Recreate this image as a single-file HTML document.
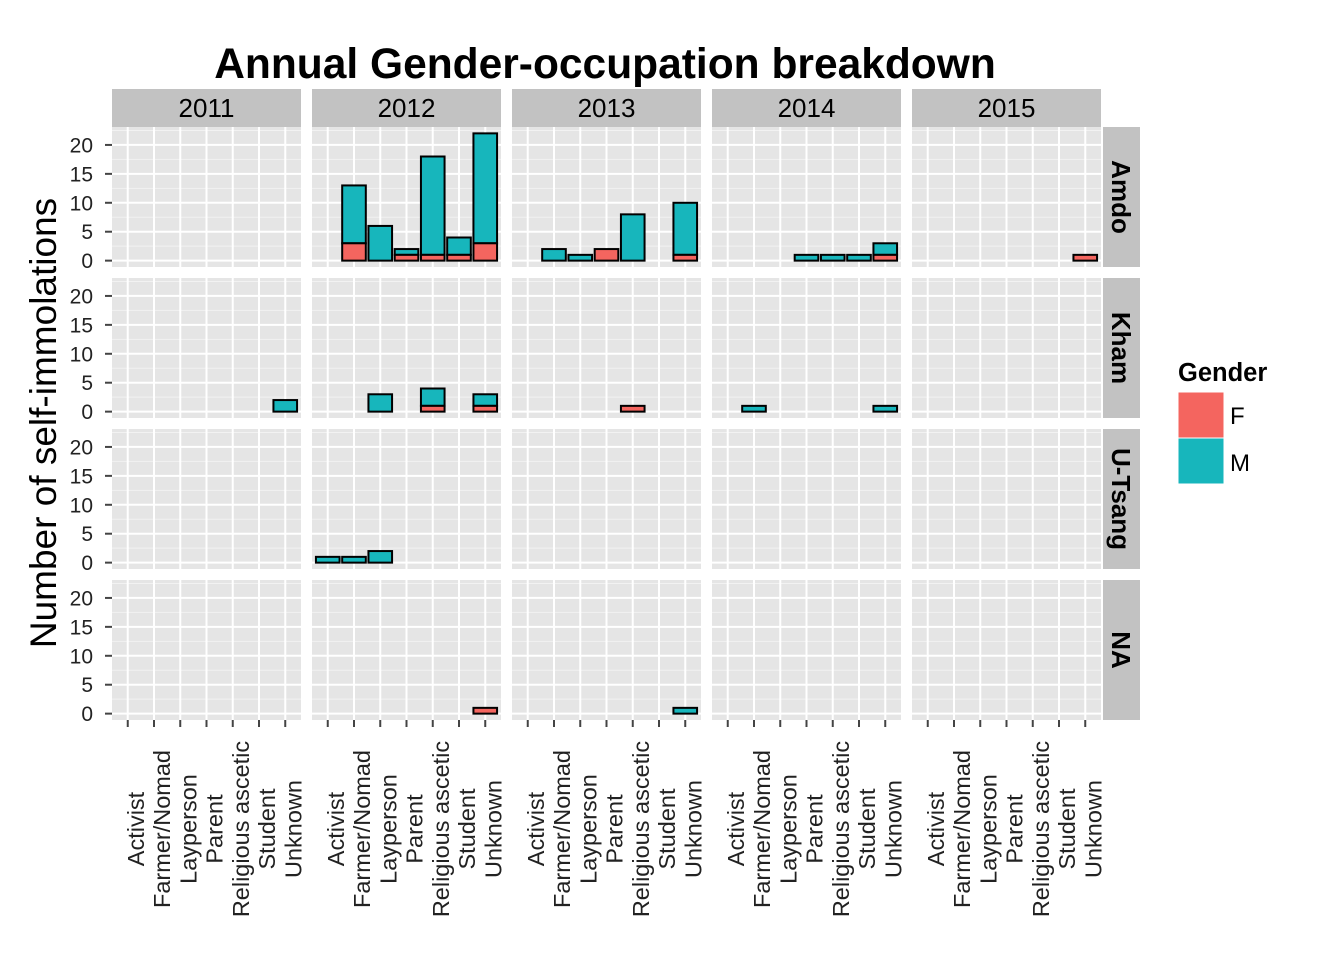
<!DOCTYPE html>
<html><head><meta charset="utf-8"><style>
body{margin:0;background:#fff;}
svg{display:block;font-family:"Liberation Sans",Arial,sans-serif;}
</style></head><body>
<svg id="chart" width="1344" height="960" viewBox="0 0 1344 960" xmlns="http://www.w3.org/2000/svg">
<text x="605" y="78" text-anchor="middle" font-size="42.5" font-weight="bold">Annual Gender-occupation breakdown</text>
<text transform="translate(56,423) rotate(-90)" text-anchor="middle" font-size="37">Number of self-immolations</text>
<g id="legend">
<text x="1178" y="381" font-size="25.5" font-weight="bold">Gender</text>
<rect x="1178" y="392" width="46" height="46" fill="#F4655F" stroke="#fff"/>
<rect x="1178" y="438" width="46" height="46" fill="#17B6BC" stroke="#fff"/>
<text x="1230" y="424" font-size="24">F</text>
<text x="1230" y="471" font-size="24">M</text>
</g>
</svg>
<script>
const years=['2011','2012','2013','2014','2015'];
const regions=['Amdo','Kham','U-Tsang','NA'];
const categories=['Activist','Farmer/Nomad','Layperson','Parent','Religious ascetic','Student','Unknown'];
const yTicks=[0,5,10,15,20];
const barRegion=['Amdo','Amdo','Amdo','Amdo','Amdo','Amdo','Amdo','Amdo','Amdo','Amdo','Amdo','Amdo','Amdo','Amdo','Amdo','Amdo','Kham','Kham','Kham','Kham','Kham','Kham','Kham','U-Tsang','U-Tsang','U-Tsang','NA','NA'];
const barYear=['2012','2012','2012','2012','2012','2012','2013','2013','2013','2013','2013','2014','2014','2014','2014','2015','2011','2012','2012','2012','2013','2014','2014','2012','2012','2012','2012','2013'];
const barCat=['Farmer/Nomad','Layperson','Parent','Religious ascetic','Student','Unknown','Farmer/Nomad','Layperson','Parent','Religious ascetic','Unknown','Parent','Religious ascetic','Student','Unknown','Unknown','Unknown','Layperson','Religious ascetic','Unknown','Religious ascetic','Farmer/Nomad','Unknown','Activist','Farmer/Nomad','Layperson','Unknown','Unknown'];
const femaleVals=[3,0,1,1,1,3,0,0,2,0,1,0,0,0,1,1,0,0,1,1,1,0,0,0,0,0,1,0];
const maleVals=[10,6,1,17,3,19,2,1,0,8,9,1,1,1,2,0,2,3,3,2,0,1,1,1,1,2,0,1];

const svg=document.getElementById('chart');
const NS='http://www.w3.org/2000/svg';
function mk(tag,attrs,parent){const e=document.createElementNS(NS,tag);for(const k in attrs)e.setAttribute(k,attrs[k]);(parent||svg).appendChild(e);return e;}
const colX0=[112,312,512,712,912], panelW=189;
const rowY0=[127,278,429,580], panelH=140;
const xMin=0.4,xMax=7.6,yMin=-1.1,yMax=23.1;
function xs(col,ci){return colX0[col]+(ci+1-xMin)/(xMax-xMin)*panelW;}
function ys(row,v){return rowY0[row]+panelH-(v-yMin)/(yMax-yMin)*panelH;}
const bw=0.9/(xMax-xMin)*panelW;

regions.forEach((r,ri)=>{years.forEach((y,ci)=>{
  const g=mk('g',{});
  
  
  mk('rect',{x:colX0[ci],y:rowY0[ri],width:panelW,height:panelH,fill:'#E5E5E5'},g);
  for(let v=2.5;v<=22.5;v+=5) mk('line',{x1:colX0[ci],x2:colX0[ci]+panelW,y1:ys(ri,v),y2:ys(ri,v),stroke:'#F2F2F2','stroke-width':1},g);
  yTicks.forEach(v=>mk('line',{x1:colX0[ci],x2:colX0[ci]+panelW,y1:ys(ri,v),y2:ys(ri,v),stroke:'#fff','stroke-width':2},g));
  categories.forEach((c,k)=>mk('line',{x1:xs(ci,k),x2:xs(ci,k),y1:rowY0[ri],y2:rowY0[ri]+panelH,stroke:'#fff','stroke-width':2},g));
});});

years.forEach((y,ci)=>{
  const s=mk('rect',{x:colX0[ci],y:89,width:panelW,height:38,fill:'#C2C2C2'});
  
  
  const t=mk('text',{x:colX0[ci]+panelW/2,y:117,'text-anchor':'middle','font-size':26});
  t.textContent=y;
  
  
  categories.forEach((c,k)=>{
    const x=xs(ci,k);
    mk('line',{x1:x,x2:x,y1:720,y2:727,stroke:'#444','stroke-width':2});
    const l=mk('text',{transform:`translate(${x+16},829) rotate(-90)`,'text-anchor':'middle','font-size':23.5,fill:'#222'});
    l.textContent=c;
    
    
  });
});
regions.forEach((r,ri)=>{
  const s=mk('rect',{x:1103,y:rowY0[ri],width:37,height:panelH,fill:'#C2C2C2'});
  
  
  const t=mk('text',{transform:`translate(1112,${rowY0[ri]+panelH/2}) rotate(90)`,'text-anchor':'middle','font-size':26,'font-weight':'bold'});
  t.textContent=r;
  
  
  yTicks.forEach(v=>{
    const yy=ys(ri,v);
    mk('line',{x1:105,x2:112,y1:yy,y2:yy,stroke:'#444','stroke-width':2});
    const l=mk('text',{x:93,y:yy+7.5,'text-anchor':'end','font-size':21,fill:'#222'});
    l.textContent=v;
    
    
  });
});

barCat.forEach((c,i)=>{
  const ri=regions.indexOf(barRegion[i]), ci=years.indexOf(barYear[i]), k=categories.indexOf(c);
  const x=xs(ci,k)-bw/2;
  const f=femaleVals[i], m=maleVals[i];
  if(m>0){
    const b=mk('rect',{x:x,y:ys(ri,f+m),width:bw,height:ys(ri,f)-ys(ri,f+m),fill:'#17B6BC',stroke:'#000','stroke-width':2});
    
    
  }
  if(f>0){
    const b=mk('rect',{x:x,y:ys(ri,f),width:bw,height:ys(ri,0)-ys(ri,f),fill:'#F4655F',stroke:'#000','stroke-width':2});
    
    
  }
});
</script>
</body></html>
